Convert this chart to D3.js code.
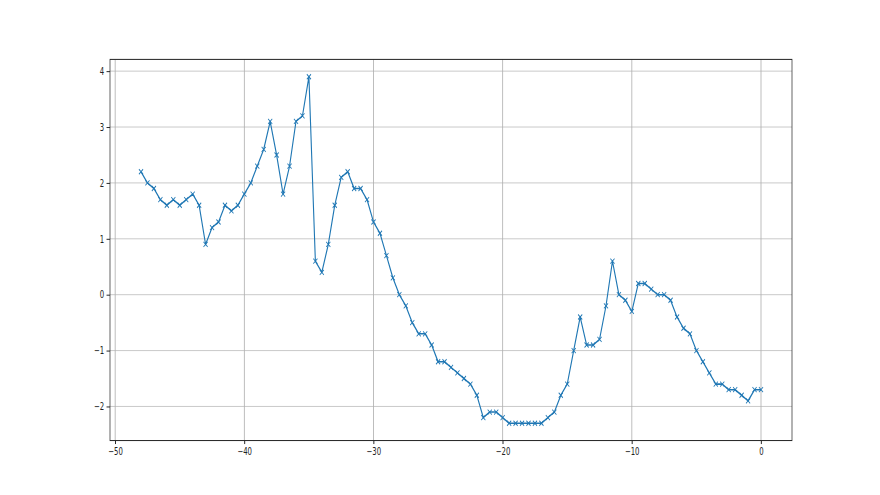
<!DOCTYPE html>
<meta charset="utf-8">
<script src="https://d3js.org/d3.v7.min.js"></script>
<style>
    body { margin: 0; background: #fff; }
    .tick text { font-family: "DejaVu Sans", sans-serif; font-size: 10px; fill: #222; }
</style>
<div id="chart"></div>
<script>
    var xs = [
        -48, -47.5, -47, -46.5, -46, -45.5, -45, -44.5, -44, -43.5,
        -43, -42.5, -42, -41.5, -41, -40.5, -40, -39.5, -39, -38.5,
        -38, -37.5, -37, -36.5, -36, -35.5, -35, -34.5, -34, -33.5,
        -33, -32.5, -32, -31.5, -31, -30.5, -30, -29.5, -29, -28.5,
        -28, -27.5, -27, -26.5, -26, -25.5, -25, -24.5, -24, -23.5,
        -23, -22.5, -22, -21.5, -21, -20.5, -20, -19.5, -19, -18.5,
        -18, -17.5, -17, -16.5, -16, -15.5, -15, -14.5, -14, -13.5,
        -13, -12.5, -12, -11.5, -11, -10.5, -10, -9.5, -9, -8.5,
        -8, -7.5, -7, -6.5, -6, -5.5, -5, -4.5, -4, -3.5,
        -3, -2.5, -2, -1.5, -1, -0.5, 0
    ]

    var ys = [
        2.2, 2.0, 1.9, 1.7, 1.6, 1.7, 1.6, 1.7, 1.8, 1.6,
        0.9, 1.2, 1.3, 1.6, 1.5, 1.6, 1.8, 2.0, 2.3, 2.6,
        3.1, 2.5, 1.8, 2.3, 3.1, 3.2, 3.9, 0.6, 0.4, 0.9,
        1.6, 2.1, 2.2, 1.9, 1.9, 1.7, 1.3, 1.1, 0.7, 0.3,
        0.0, -0.2, -0.5, -0.7, -0.7, -0.9, -1.2, -1.2, -1.3, -1.4,
        -1.5, -1.6, -1.8, -2.2, -2.1, -2.1, -2.2, -2.3, -2.3, -2.3,
        -2.3, -2.3, -2.3, -2.2, -2.1, -1.8, -1.6, -1.0, -0.4, -0.9,
        -0.9, -0.8, -0.2, 0.6, 0.0, -0.1, -0.3, 0.2, 0.2, 0.1,
        0.0, 0.0, -0.1, -0.4, -0.6, -0.7, -1.0, -1.2, -1.4, -1.6,
        -1.6, -1.7, -1.7, -1.8, -1.9, -1.7, -1.7
    ]

    var xTicks = [-50, -40, -30, -20, -10, 0]
    var yTicks = [-2, -1, 0, 1, 2, 3, 4]

    // the picture looks squeezed sideways, so draw on a wider canvas and squash it
    var W = 1270
    var width = 880
    var height = 495
    var margin = {left: 0.125 * W, right: 0.1 * W, top: 59.4, bottom: 54.45}

    var data = xs.map(function (x, i) { return {x: x, y: ys[i]} })

    var svg = d3.select("#chart")
        .append("svg")
        .attr("width", width)
        .attr("height", height)
        .attr("viewBox", "0 0 " + W + " " + height)
        .attr("preserveAspectRatio", "none")

    // matplotlib style 5% padding around the data
    var xExt = d3.extent(xs), yExt = d3.extent(ys)
    var xPad = (xExt[1] - xExt[0]) * 0.05
    var yPad = (yExt[1] - yExt[0]) * 0.05

    var x = d3.scaleLinear()
        .domain([xExt[0] - xPad, xExt[1] + xPad])
        .range([margin.left, W - margin.right])

    var y = d3.scaleLinear()
        .domain([yExt[0] - yPad, yExt[1] + yPad])
        .range([height - margin.bottom, margin.top])

    var fmt = function (d) { return String(d).replace("-", "\u2212") }

    // grid
    svg.append("g")
        .selectAll("line")
        .data(xTicks)
        .enter().append("line")
        .attr("x1", function (d) { return x(d) })
        .attr("x2", function (d) { return x(d) })
        .attr("y1", margin.top)
        .attr("y2", height - margin.bottom)
        .attr("stroke", "#b0b0b0")
        .attr("stroke-width", 1.2)

    svg.append("g")
        .selectAll("line")
        .data(yTicks)
        .enter().append("line")
        .attr("x1", margin.left)
        .attr("x2", W - margin.right)
        .attr("y1", function (d) { return y(d) })
        .attr("y2", function (d) { return y(d) })
        .attr("stroke", "#b0b0b0")
        .attr("stroke-width", 0.8)

    // line
    var line = d3.line()
        .x(function (d) { return x(d.x) })
        .y(function (d) { return y(d.y) })

    svg.append("path")
        .datum(data)
        .attr("d", line)
        .attr("fill", "none")
        .attr("stroke", "#1f77b4")
        .attr("stroke-width", 1.6)
        .attr("stroke-linejoin", "round")

    // x markers
    var mx = 3, my = 2.5
    svg.append("g")
        .selectAll("path")
        .data(data)
        .enter().append("path")
        .attr("d", function (d) {
            var cx = x(d.x), cy = y(d.y)
            return "M" + (cx - mx) + "," + (cy - my) + "L" + (cx + mx) + "," + (cy + my) +
                "M" + (cx - mx) + "," + (cy + my) + "L" + (cx + mx) + "," + (cy - my)
        })
        .attr("stroke", "#1f77b4")
        .attr("stroke-width", 1.1)
        .attr("fill", "none")

    // axes
    var xAxis = svg.append("g")
        .attr("transform", "translate(0," + (height - margin.bottom) + ")")
        .call(d3.axisBottom(x).tickValues(xTicks).tickFormat(fmt).tickSize(3.5).tickPadding(3.5))
    var yAxis = svg.append("g")
        .attr("transform", "translate(" + margin.left + ",0)")
        .call(d3.axisLeft(y).tickValues(yTicks).tickFormat(fmt).tickSize(5).tickPadding(3.5))

    xAxis.select(".domain").remove()
    yAxis.select(".domain").remove()
    svg.selectAll(".tick line").attr("stroke", "#000").attr("stroke-width", 1)

    // frame
    svg.append("rect")
        .attr("x", margin.left)
        .attr("y", margin.top)
        .attr("width", W - margin.left - margin.right)
        .attr("height", height - margin.top - margin.bottom)
        .attr("fill", "none")
        .attr("stroke", "#222")
        .attr("stroke-width", 1)
</script>
